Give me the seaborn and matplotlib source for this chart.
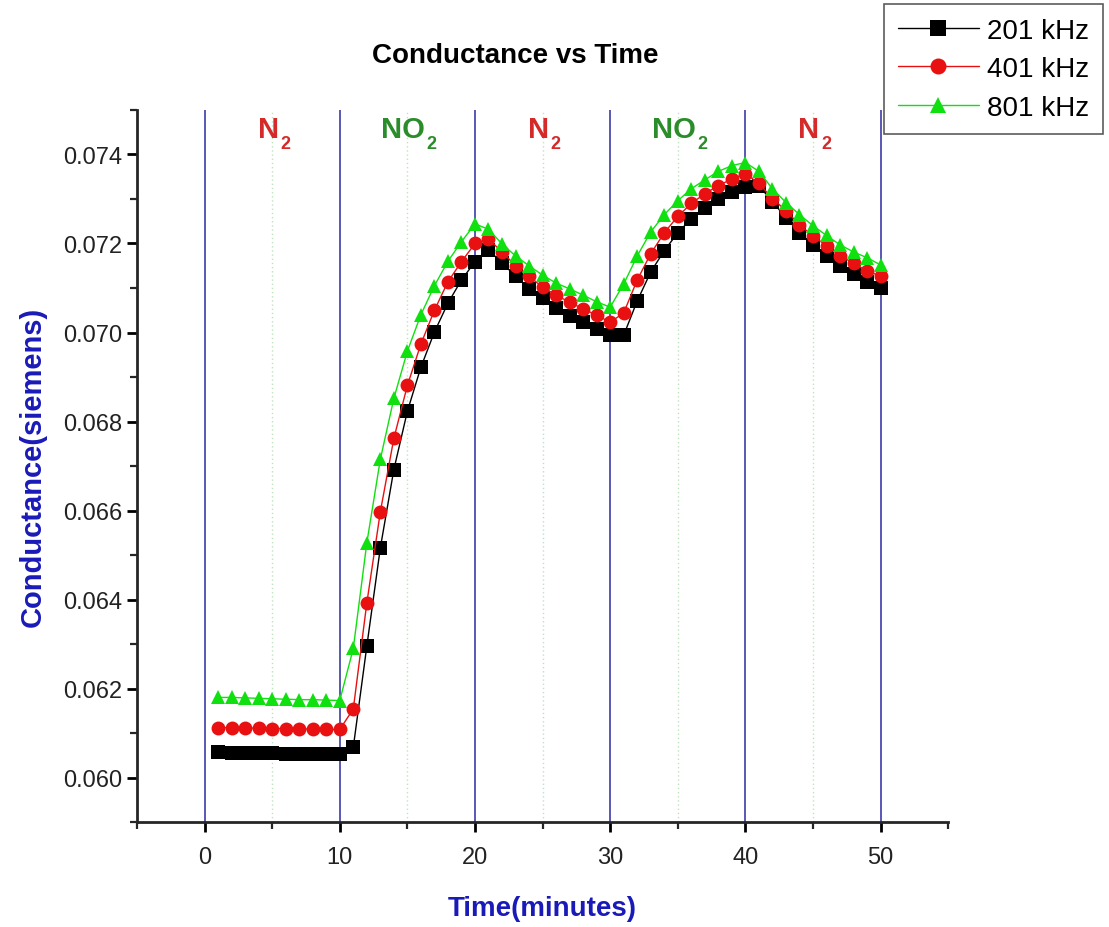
import numpy as np
import pandas as pd
import matplotlib
matplotlib.use("Agg")
import matplotlib.pyplot as plt
import seaborn as sns
from matplotlib.ticker import MultipleLocator

# Data
time_min = list(range(1, 51))

g_201 = [0.06057, 0.06056, 0.06056, 0.06055, 0.06055, 0.06054, 0.06054, 0.06053, 0.06053, 0.06053,
         0.06068, 0.06295, 0.06516, 0.06692, 0.06823, 0.06922, 0.07001, 0.07066, 0.07118, 0.07159,
         0.07186, 0.07156, 0.07127, 0.07098, 0.07078, 0.07055, 0.07037, 0.07023, 0.07008, 0.06994,
         0.06994, 0.07071, 0.07136, 0.07184, 0.07224, 0.07256, 0.07280, 0.07299, 0.07316, 0.07328,
         0.07330, 0.07294, 0.07258, 0.07224, 0.07197, 0.07172, 0.07150, 0.07132, 0.07114, 0.07100]

g_401 = [0.06112, 0.06112, 0.06111, 0.06111, 0.06110, 0.06110, 0.06109, 0.06109, 0.06108, 0.06108,
         0.06154, 0.06392, 0.06597, 0.06762, 0.06881, 0.06974, 0.07050, 0.07114, 0.07159, 0.07200,
         0.07210, 0.07181, 0.07150, 0.07126, 0.07102, 0.07084, 0.07068, 0.07053, 0.07039, 0.07023,
         0.07044, 0.07118, 0.07177, 0.07224, 0.07261, 0.07290, 0.07312, 0.07330, 0.07345, 0.07357,
         0.07335, 0.07301, 0.07274, 0.07242, 0.07217, 0.07195, 0.07172, 0.07156, 0.07138, 0.07127]

g_801 = [0.06180, 0.06180, 0.06179, 0.06178, 0.06177, 0.06176, 0.06175, 0.06175, 0.06174, 0.06173,
         0.06290, 0.06527, 0.06715, 0.06852, 0.06958, 0.07040, 0.07105, 0.07160, 0.07204, 0.07244,
         0.07232, 0.07199, 0.07172, 0.07150, 0.07129, 0.07111, 0.07098, 0.07084, 0.07069, 0.07057,
         0.07109, 0.07172, 0.07226, 0.07265, 0.07296, 0.07323, 0.07343, 0.07362, 0.07375, 0.07382,
         0.07362, 0.07323, 0.07292, 0.07265, 0.07240, 0.07218, 0.07197, 0.07181, 0.07168, 0.07152]

series_names = ["201 kHz", "401 kHz", "801 kHz"]
gas_names = ["N", "NO", "N", "NO", "N"]
gas_x = [5, 15, 25, 35, 45]
switch_x = [0, 10, 20, 30, 40, 50]

# long table for seaborn
df = pd.DataFrame({
    "time": time_min * 3,
    "G": g_201 + g_401 + g_801,
    "freq": [n for n in series_names for _ in time_min],
})

sns.set_style("ticks")
plt.rcParams["font.family"] = ["Liberation Sans", "DejaVu Sans"]
plt.rcParams["text.color"] = "black"

fig = plt.figure(figsize=(11.09, 9.28), dpi=100)
ax = fig.add_axes([0.1235, 0.1131, 0.7315, 0.7673])

# gas switching lines
for x in switch_x:
    ax.axvline(x, color="#3c3ca8", lw=1.2, zorder=1)
for x in gas_x:
    ax.axvline(x, color="#bfe3bf", lw=1.0, ls=(0, (1, 2)), zorder=1)

palette = {"201 kHz": "black", "401 kHz": "#e81010", "801 kHz": "#10e010"}
markers = {"201 kHz": "s", "401 kHz": "o", "801 kHz": "^"}
sns.lineplot(data=df, x="time", y="G", hue="freq", style="freq",
             palette=palette, markers=markers, dashes=False,
             markersize=10, markeredgewidth=0, linewidth=1.0, ax=ax, zorder=3)

ax.set_xlim(-5, 55)
ax.set_ylim(0.059, 0.075)
ax.xaxis.set_major_locator(MultipleLocator(10))
ax.xaxis.set_minor_locator(MultipleLocator(5))
ax.yaxis.set_major_locator(MultipleLocator(0.002))
ax.yaxis.set_minor_locator(MultipleLocator(0.001))
ax.set_xticks([0, 10, 20, 30, 40, 50])
ax.yaxis.set_major_formatter(plt.FormatStrFormatter("%.3f"))

for s in ["top", "right"]:
    ax.spines[s].set_visible(False)
for s in ["left", "bottom"]:
    ax.spines[s].set_linewidth(2.0)
ax.tick_params(which="major", direction="out", length=7, width=2, labelsize=17,
               colors="black", labelcolor="#222222")
ax.tick_params(which="minor", direction="out", length=5, width=1.6)
ax.tick_params(axis="x", pad=10)

ax.set_xlabel("Time(minutes)", fontsize=20, fontweight="bold", color="#1a1ab8",
              labelpad=20)
ax.set_ylabel("Conductance(siemens)", fontsize=21, fontweight="bold", color="#1a1ab8",
              labelpad=12)
fig.text(0.465, 0.94, "Conductance vs Time", ha="center", va="center",
         fontsize=20, fontweight="bold", color="black")

# gas labels with subscript 2
for x, name in zip(gas_x, gas_names):
    col = "#d42a2a" if name == "N" else "#2a8c2a"
    t = ax.text(x - 0.3, 0.07458, name, ha="center", va="center", color=col,
                fontsize=21, fontweight="bold")
    ax.annotate("2", xy=(1, 0), xycoords=t, xytext=(1, -7), textcoords="offset points",
                ha="left", va="bottom", color=col, fontsize=13, fontweight="bold")

handles, labels = ax.get_legend_handles_labels()
ax.get_legend().remove()
leg = fig.legend(handles, labels, loc="upper right", bbox_to_anchor=(0.997, 0.998),
                 fontsize=20, frameon=True, fancybox=False, edgecolor="#333333",
                 handlelength=2.9, borderpad=0.5, labelspacing=0.45, handletextpad=0.3,
                 markerscale=1.15, borderaxespad=0.1)
leg.get_frame().set_linewidth(1.2)

fig.savefig("out.png", dpi=100)
